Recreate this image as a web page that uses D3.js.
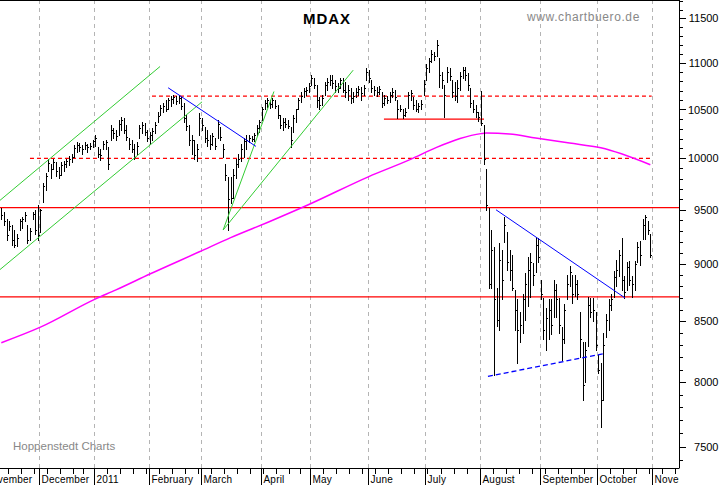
<!DOCTYPE html>
<html>
<head>
<meta charset="utf-8">
<script src="https://cdnjs.cloudflare.com/ajax/libs/d3/7.8.5/d3.min.js"></script>
<style>
    html, body { margin: 0; padding: 0; background: #fff; }
    svg { display: block; font-family: Arial, "Liberation Sans", sans-serif; }
</style>
</head>
<body>
<svg id="chart" width="723" height="485"></svg>
<script>
// Trading calendar (Xetra), first bar on 10 Nov 2010
const calendarStart = new Date(2010, 10, 1),
      calendarEnd = new Date(2011, 10, 16),
      firstBarDay = new Date(2010, 10, 10);
const holidays = ['2010-12-24', '2010-12-31', '2011-04-22', '2011-04-25'];
const monthLabels = ['2011', 'February', 'March', 'April', 'May', 'June', 'July',
    'August', 'September', 'October', 'November', 'December'];
const yTickLabels = [7500, 8000, 8500, 9000, 9500, 10000, 10500, 11000, 11500];

// Daily highs / lows / closes, one line per month (Nov 10 2010 .. Oct 31 2011)
const highs = [
    9520, 9480, 9410, 9390, 9360, 9310, 9270, 9410, 9430, 9480, 9360, 9330, 9480, 9500, 9550,
    9510, 9760, 9860, 9990, 9940, 9990, 9960, 9910, 9960, 9970, 9990, 10020, 10040, 10130, 10160, 10150, 10130, 10160, 10140, 10150, 10190,
    10240, 10110, 10090, 10170, 10190, 10110, 10340, 10310, 10290, 10390, 10420, 10410, 10340, 10210, 10190, 10140, 10160, 10340, 10370, 10360, 10290,
    10270, 10310, 10370, 10470, 10550, 10570, 10600, 10620, 10640, 10650, 10640, 10650, 10630, 10570, 10440, 10340, 10240, 10190, 10140, 10460,
    10410, 10320, 10290, 10240, 10260, 10210, 10390, 10320, 10140, 9940, 9820, 9820, 9890, 9990, 10040, 10140, 10210, 10240, 10240, 10230, 10260, 10340, 10390,
    10530, 10600, 10620, 10600, 10620, 10600, 10550, 10440, 10410, 10410, 10390, 10320, 10440, 10510, 10620, 10680, 10730, 10740, 10780,
    10870, 10840, 10760, 10630, 10650, 10790, 10840, 10870, 10870, 10810, 10780, 10840, 10830, 10790, 10760, 10730, 10690, 10730, 10750, 10740, 10760, 10940,
    10920, 10810, 10750, 10740, 10750, 10690, 10650, 10640, 10690, 10730, 10710, 10600, 10550, 10500, 10520, 10690, 10710, 10630, 10600, 10570, 10600, 10810,
    10990, 11050, 11140, 11120, 11250, 11050, 10900, 10760, 10950, 10940, 10810, 10790, 10810, 10900, 10950, 10950, 10890, 10730, 10600, 10550, 10470,
    10700, 10340, 9890, 9520, 9310, 9150, 8790, 9190, 9130, 9430, 9290, 9130, 9080, 8770, 8690, 8580, 8730, 8920, 9060, 9100, 9010, 9250, 9240,
    8860, 8700, 8610, 8690, 8690, 8860, 8820, 8700, 8450, 8650, 8900, 8980, 8900, 8900, 8860, 8580, 8330, 8330, 8710, 8700, 8700, 8580,
    8220, 8150, 8400, 8560, 8690, 8730, 8940, 9040, 9130, 9240, 8890, 9020, 9030, 8890, 9030, 9200, 9210, 9410, 9450, 9390, 9270
];
const lows = [
    9410, 9360, 9220, 9310, 9170, 9150, 9160, 9310, 9330, 9390, 9190, 9220, 9410, 9270, 9220,
    9290, 9570, 9690, 9870, 9810, 9890, 9830, 9810, 9840, 9870, 9910, 9930, 9960, 10010, 10060, 10070, 10040, 10090, 10060, 10090, 10110,
    10120, 10010, 9980, 10090, 10090, 9890, 10190, 10210, 10190, 10240, 10290, 10260, 10190, 10090, 10060, 9990, 10040, 10210, 10260, 10240, 10170,
    10140, 10190, 10260, 10370, 10440, 10470, 10480, 10500, 10540, 10570, 10560, 10570, 10500, 10370, 10290, 10130, 10040, 9990, 9970, 10240,
    10290, 10160, 10120, 10090, 10130, 10090, 10210, 10190, 10010, 9790, 9310, 9560, 9610, 9810, 9910, 9970, 10010, 10090, 10160, 10170, 10170, 10240, 10270,
    10390, 10500, 10530, 10520, 10530, 10520, 10410, 10310, 10290, 10320, 10310, 10110, 10270, 10370, 10500, 10580, 10630, 10650, 10690,
    10760, 10730, 10530, 10500, 10550, 10650, 10710, 10760, 10730, 10680, 10690, 10730, 10680, 10630, 10600, 10570, 10580, 10630, 10650, 10600, 10650, 10810,
    10790, 10680, 10650, 10640, 10660, 10530, 10550, 10570, 10580, 10630, 10600, 10410, 10480, 10410, 10430, 10520, 10600, 10500, 10480, 10470, 10500, 10650,
    10810, 10900, 11010, 11030, 11070, 10740, 10730, 10420, 10790, 10810, 10630, 10600, 10580, 10710, 10830, 10810, 10710, 10530, 10470, 10420, 10380,
    10340, 9940, 9500, 8790, 8790, 8060, 8460, 8430, 8690, 9200, 8950, 8860, 8770, 8430, 8150, 8330, 8400, 8510, 8630, 8710, 8810, 8930, 9020,
    8690, 8350, 8260, 8350, 8390, 8540, 8540, 8400, 8180, 8320, 8690, 8800, 8660, 8720, 8690, 8200, 7860, 8000, 8290, 8540, 8500, 8260,
    8070, 7650, 7860, 8370, 8430, 8600, 8710, 8800, 8890, 8770, 8700, 8770, 8810, 8710, 8770, 9020, 8990, 9230, 9230, 9270, 9060
];
const closes = [
    9450, 9390, 9260, 9350, 9220, 9170, 9240, 9390, 9410, 9450, 9220, 9300, 9460, 9310, 9260,
    9500, 9730, 9830, 9950, 9890, 9960, 9870, 9840, 9930, 9940, 9970, 9990, 10010, 10100, 10130, 10110, 10090, 10130, 10110, 10120, 10170,
    10210, 10040, 10030, 10140, 10160, 9940, 10290, 10260, 10230, 10350, 10390, 10290, 10220, 10140, 10090, 10010, 10120, 10310, 10340, 10270, 10210,
    10240, 10280, 10340, 10430, 10520, 10540, 10500, 10600, 10610, 10630, 10590, 10620, 10540, 10410, 10330, 10190, 10190, 10030, 10090, 10410,
    10340, 10210, 10190, 10140, 10230, 10120, 10350, 10220, 10090, 9840, 9600, 9610, 9840, 9940, 9990, 10090, 10170, 10190, 10210, 10200, 10240, 10310, 10370,
    10500, 10570, 10600, 10560, 10600, 10540, 10440, 10340, 10370, 10350, 10330, 10190, 10410, 10500, 10600, 10640, 10700, 10710, 10750,
    10840, 10760, 10600, 10550, 10620, 10760, 10790, 10810, 10780, 10750, 10730, 10810, 10710, 10680, 10710, 10620, 10640, 10690, 10720, 10670, 10730, 10900,
    10840, 10730, 10710, 10690, 10720, 10570, 10620, 10600, 10650, 10690, 10630, 10500, 10510, 10440, 10470, 10650, 10670, 10550, 10510, 10540, 10560, 10770,
    10940, 11020, 11100, 11080, 11200, 10870, 10810, 10650, 10900, 10860, 10690, 10640, 10730, 10860, 10920, 10870, 10760, 10570, 10500, 10470, 10420,
    10360, 9990, 9550, 8820, 9130, 8690, 8510, 9040, 8860, 9360, 9020, 8950, 8790, 8600, 8430, 8470, 8690, 8820, 8950, 9020, 8900, 9170, 9060,
    8730, 8430, 8530, 8600, 8470, 8770, 8690, 8470, 8350, 8600, 8820, 8930, 8730, 8820, 8730, 8350, 7980, 8260, 8640, 8580, 8600, 8300,
    8100, 7860, 8300, 8510, 8640, 8690, 8880, 8950, 9080, 8860, 8750, 8970, 8860, 8820, 9000, 9150, 9080, 9360, 9430, 9310, 9080
];

// 200-day average, read at a few bars: [bar index, value]
const movingAverage = [
    [0, 8320], [15, 8450], [36, 8690], [44, 8770], [57, 8910], [76, 9110], [88, 9240],
    [103, 9390], [118, 9550], [141, 9820], [157, 9990], [167, 10110], [176, 10200],
    [184, 10250], [186, 10256], [195, 10246], [205, 10205], [218, 10154], [230, 10106], [249, 9937]
];

// Drawn trend lines: [bar1, value1, bar2, value2]
const greenLines = [
    [-0.5, 9590, 60.9, 10960],
    [-0.5, 8950, 77, 10580],
    [85.1, 9310, 104.6, 10690],
    [85.1, 9310, 135, 10920]
];
const blueLines = [
    [64, 10730, 97.7, 10120],
    [189.8, 9500, 239.3, 8700]
];
const blueDashedLines = [[186.7, 8045, 231.6, 8232]];
const redLevels = [9520, 8710];
const redDashedLevels = [[11, 249.5, 10000], [57.8, 249.5, 10640]];
const redShortLevels = [[146.8, 185.2, 10400]];

const mdaxChart = (function () {

    let svg, plot, xScale, yScale, days, offset;

    const width = 723,
          plotRight = 679,
          plotBottom = 468;

    return { init };

    function init() {
        svg = d3.select('#chart');

        xScale = d3.scaleLinear().domain([-0.5, 260]).range([0, plotRight]);
        yScale = d3.scaleLog().domain([7500, 11500]).range([446.7, 18.3]);

        // trading days, indexed relative to the first bar
        const fmt = d3.timeFormat('%Y-%m-%d');
        days = d3.timeDay.range(calendarStart, calendarEnd)
            .filter((d) => d.getDay() !== 0 && d.getDay() !== 6 && !holidays.includes(fmt(d)));
        offset = days.findIndex((d) => +d === +firstBarDay);

        svg.append('clipPath').attr('id', 'plot-clip')
            .append('rect').attr('width', plotRight).attr('height', plotBottom);
        plot = svg.append('g').attr('clip-path', 'url(#plot-clip)');

        drawGrid();
        drawLevels();
        drawAverage();
        drawBars();
        drawTrendLines();
        drawAxes();
        drawTexts();
    }

    function monthStarts() {
        let starts = [];
        days.forEach((d, k) => {
            if (k === 0 || d.getMonth() !== days[k - 1].getMonth()) starts.push({ i: k - offset, month: d.getMonth() });
        });
        return starts;
    }

    function drawGrid() {
        plot.append('g').selectAll('line').data(monthStarts()).enter().append('line')
            .attr('x1', (m) => Math.round(xScale(m.i - 0.5)) + 0.5)
            .attr('x2', (m) => Math.round(xScale(m.i - 0.5)) + 0.5)
            .attr('y1', 0).attr('y2', plotBottom)
            .attr('stroke', '#b4b4b4').attr('stroke-dasharray', '4,4');
    }

    function drawLevels() {
        let g = plot.append('g');
        g.selectAll('line.level').data(redLevels).enter().append('line')
            .attr('x1', 0).attr('x2', plotRight)
            .attr('y1', (v) => yScale(v)).attr('y2', (v) => yScale(v))
            .attr('stroke', '#ff0000').attr('stroke-width', 1.3);
        g.selectAll('line.dashed').data(redDashedLevels).enter().append('line')
            .attr('x1', (l) => xScale(l[0])).attr('x2', (l) => xScale(l[1]))
            .attr('y1', (l) => yScale(l[2])).attr('y2', (l) => yScale(l[2]))
            .attr('stroke', '#ff0000').attr('stroke-width', 1.3).attr('stroke-dasharray', '4,3');
        g.selectAll('line.short').data(redShortLevels).enter().append('line')
            .attr('x1', (l) => xScale(l[0])).attr('x2', (l) => xScale(l[1]))
            .attr('y1', (l) => yScale(l[2])).attr('y2', (l) => yScale(l[2]))
            .attr('stroke', '#ff0000').attr('stroke-width', 1.3);
    }

    function drawAverage() {
        let line = d3.line()
            .x((p) => xScale(p[0]))
            .y((p) => yScale(p[1]))
            .curve(d3.curveMonotoneX);
        plot.append('path').datum(movingAverage)
            .attr('d', line)
            .attr('fill', 'none').attr('stroke', '#ff00ff').attr('stroke-width', 1.5);
    }

    function drawBars() {
        let bars = highs.map((h, i) => ({ i, h, l: lows[i], c: closes[i] })),
            px = (b) => Math.round(xScale(b.i)) + 0.5;

        let g = plot.append('g').attr('stroke', '#000').attr('shape-rendering', 'crispEdges');
        g.selectAll('line.bar').data(bars).enter().append('line')
            .attr('x1', px).attr('x2', px)
            .attr('y1', (b) => Math.round(yScale(b.h)))
            .attr('y2', (b) => Math.round(yScale(b.l)) + 1);
        g.selectAll('line.close').data(bars).enter().append('line')
            .attr('x1', px).attr('x2', (b) => px(b) + 1.5)
            .attr('y1', (b) => Math.round(yScale(b.c)) + 0.5)
            .attr('y2', (b) => Math.round(yScale(b.c)) + 0.5);
    }

    function drawTrendLines() {
        let g = plot.append('g'),
            add = (data, color, dash) => g.append('g').selectAll('line').data(data).enter().append('line')
                .attr('x1', (l) => xScale(l[0])).attr('y1', (l) => yScale(l[1]))
                .attr('x2', (l) => xScale(l[2])).attr('y2', (l) => yScale(l[3]))
                .attr('stroke', color).attr('stroke-width', 1)
                .attr('stroke-dasharray', dash);
        add(greenLines, '#33cc33', null);
        add(blueLines, '#0000ff', null);
        add(blueDashedLines, '#0000ff', '5,3').attr('stroke-width', 1.3);
    }

    function drawAxes() {
        // frame
        svg.append('line').attr('x1', 0).attr('x2', plotRight).attr('y1', 0.5).attr('y2', 0.5).attr('stroke', '#000');
        svg.append('line').attr('x1', 0).attr('x2', plotRight + 0.5).attr('y1', plotBottom + 0.5).attr('y2', plotBottom + 0.5).attr('stroke', '#000');
        svg.append('line').attr('x1', plotRight + 0.5).attr('x2', plotRight + 0.5).attr('y1', 0).attr('y2', plotBottom).attr('stroke', '#000');

        // right value axis, ticks every 100
        let minor = d3.range(7400, 11800, 100).filter((v) => v % 500 !== 0);
        let yMinor = svg.append('g').attr('transform', `translate(${plotRight + 0.5},0)`)
            .call(d3.axisRight(yScale).tickValues(minor).tickSize(3).tickFormat(''));
        let yMajor = svg.append('g').attr('transform', `translate(${plotRight + 0.5},0)`)
            .call(d3.axisRight(yScale).tickValues(yTickLabels).tickSize(6).tickFormat(d3.format('d')));
        [yMinor, yMajor].forEach((a) => a.select('.domain').remove());
        yMajor.selectAll('text')
            .attr('x', width - 5 - plotRight).attr('text-anchor', 'end')
            .attr('font-size', 11).attr('font-family', 'Arial, "Liberation Sans", sans-serif').attr('fill', '#000');
        svg.selectAll('.tick line').attr('shape-rendering', 'crispEdges');

        // bottom time axis: weekly ticks and month separators
        let weekStarts = [];
        days.forEach((d, k) => {
            if (k > 0 && d3.timeMonday.floor(d) > days[k - 1]) weekStarts.push(k - offset);
        });
        let xAxis = svg.append('g').attr('clip-path', 'url(#axis-clip)').attr('shape-rendering', 'crispEdges');
        svg.append('clipPath').attr('id', 'axis-clip')
            .append('rect').attr('x', 0).attr('y', plotBottom).attr('width', plotRight).attr('height', 20);
        xAxis.selectAll('line.week').data(weekStarts).enter().append('line')
            .attr('x1', (i) => Math.round(xScale(i - 0.5)) + 0.5)
            .attr('x2', (i) => Math.round(xScale(i - 0.5)) + 0.5)
            .attr('y1', plotBottom).attr('y2', plotBottom + 6).attr('stroke', '#000');
        let months = xAxis.selectAll('g.month').data(monthStarts()).enter().append('g')
            .attr('transform', (m) => `translate(${Math.round(xScale(m.i - 0.5)) + 0.5},0)`);
        months.append('line').attr('y1', plotBottom).attr('y2', 485).attr('stroke', '#000');
        months.append('text')
            .attr('x', 2).attr('y', 482.5)
            .attr('font-size', 10).attr('letter-spacing', 0.2).attr('fill', '#000')
            .text((m) => monthLabels[m.month]);
    }

    function drawTexts() {
        svg.append('text').attr('x', 327).attr('y', 23.5).attr('text-anchor', 'middle')
            .attr('font-size', 15).attr('font-weight', 'bold').attr('letter-spacing', 1)
            .text('MDAX');
        svg.append('text').attr('x', 527).attr('y', 20.5)
            .attr('font-size', 12).attr('letter-spacing', 0.6).attr('fill', '#888')
            .text('www.chartbuero.de');
        svg.append('text').attr('x', 13).attr('y', 450)
            .attr('font-size', 11.5).attr('fill', '#888')
            .text('Hoppenstedt Charts');
    }

})();

mdaxChart.init();
</script>
</body>
</html>
